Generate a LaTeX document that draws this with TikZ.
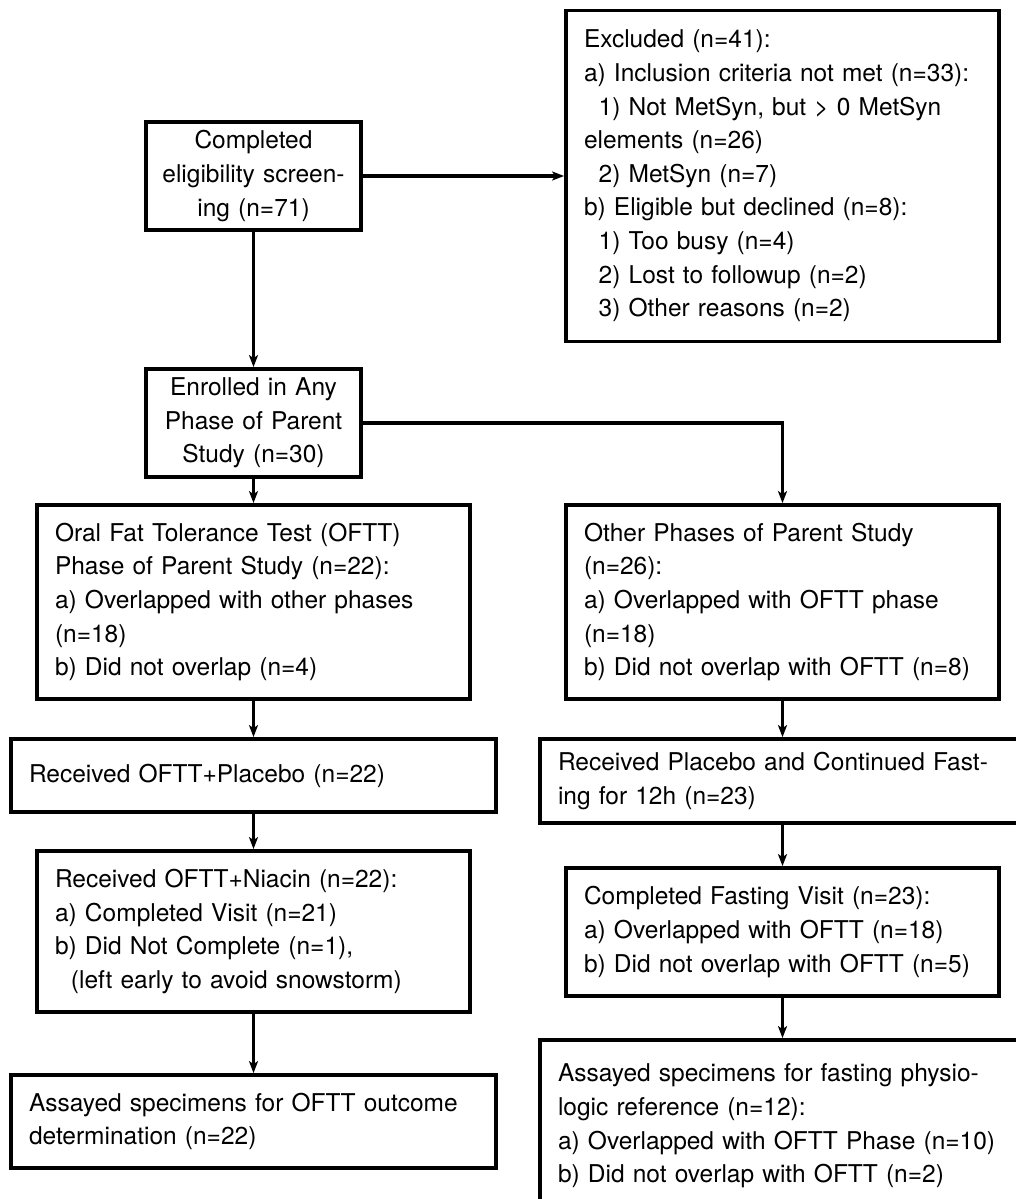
\documentclass[tikz,border=0pt]{standalone}
\usepackage{fontspec}
\setmainfont{TeX Gyre Heros}
\usetikzlibrary{arrows.meta,positioning}

\begin{document}
\begin{tikzpicture}[
  x=1pt, y=-1pt,
  flowbox/.style={
    draw,
    line width=3.8pt,
    inner xsep=18pt,
    inner ysep=4pt,
    font=\fontsize{24.5}{33.6}\selectfont,
    align=left
  },
  midbox/.style={flowbox, text width=190pt, inner xsep=12.5pt, align=center, minimum height=108pt},
  listbox/.style={flowbox, text width=397pt},
  widebox/.style={flowbox, text width=449pt},
  flow/.style={line width=3.4pt, -{Stealth[length=12pt,width=9pt,inset=3pt]}}
]
  \useasboundingbox (0,0) rectangle (1015,1199);

  \node[midbox] (screen) at (253.5,176) {Completed\\eligibility screen-\\ing (n=71)};
  \node[listbox,minimum height=331pt,right=201.2pt of screen] (excluded) {Excluded (n=41):\\
    a) Inclusion criteria not met (n=33):\\
    \hspace*{0.6em}1) Not MetSyn, but \textgreater{} 0 MetSyn\\
    elements (n=26)\\
    \hspace*{0.6em}2) MetSyn (n=7)\\
    b) Eligible but declined (n=8):\\
    \hspace*{0.6em}1) Too busy (n=4)\\
    \hspace*{0.6em}2) Lost to followup (n=2)\\
    \hspace*{0.6em}3) Other reasons (n=2)};
  \node[midbox,below=135.2pt of screen] (enrolled) {Enrolled in Any\\Phase of Parent\\Study (n=30)};

  % left column
  \node[listbox,minimum height=194pt,below=24.2pt of enrolled] (oftt) {Oral Fat Tolerance Test (OFTT)\\
    Phase of Parent Study (n=22):\\
    a) Overlapped with other phases\\
    (n=18)\\
    b) Did not overlap (n=4)};
  \node[widebox,minimum height=73pt,below=36.2pt of oftt] (placebo) {Received OFTT+Placebo (n=22)};
  \node[listbox,minimum height=161pt,below=35.2pt of placebo] (niacin) {Received OFTT+Niacin (n=22):\\
    a) Completed Visit (n=21)\\
    b) Did Not Complete (n=1),\\
    \hspace*{0.65em}(left early to avoid snowstorm)};
  \node[widebox,minimum height=93pt,below=59.2pt of niacin] (assayOftt) {Assayed specimens for OFTT outcome\\
    determination (n=22)};

  % right column
  \node[listbox,minimum height=194pt,right=92.2pt of oftt] (other) {Other Phases of Parent Study\\
    (n=26):\\
    a) Overlapped with OFTT phase\\
    (n=18)\\
    b) Did not overlap with OFTT (n=8)};
  \node[widebox,minimum height=84pt,below=36.2pt of other] (fasting) {Received Placebo and Continued Fast-\\
    ing for 12h (n=23)};
  \node[listbox,minimum height=128pt,below=41.2pt of fasting] (visit) {Completed Fasting Visit (n=23):\\
    a) Overlapped with OFTT (n=18)\\
    b) Did not overlap with OFTT (n=5)};
  \node[widebox,minimum height=172pt,below=40.2pt of visit] (assayFast) {Assayed specimens for fasting physio-\\
    logic reference (n=12):\\
    a) Overlapped with OFTT Phase (n=10)\\
    b) Did not overlap with OFTT (n=2)};

  \draw[flow] (screen) -- (excluded);
  \draw[flow] (screen) -- (enrolled);
  \draw[flow] (enrolled) -- (oftt);
  \draw[flow] (enrolled.east) -| (other.north);
  \draw[flow] (oftt) -- (placebo);
  \draw[flow] (placebo) -- (niacin);
  \draw[flow] (niacin) -- (assayOftt);
  \draw[flow] (other) -- (fasting);
  \draw[flow] (fasting) -- (visit);
  \draw[flow] (visit) -- (assayFast);
\end{tikzpicture}
\end{document}
